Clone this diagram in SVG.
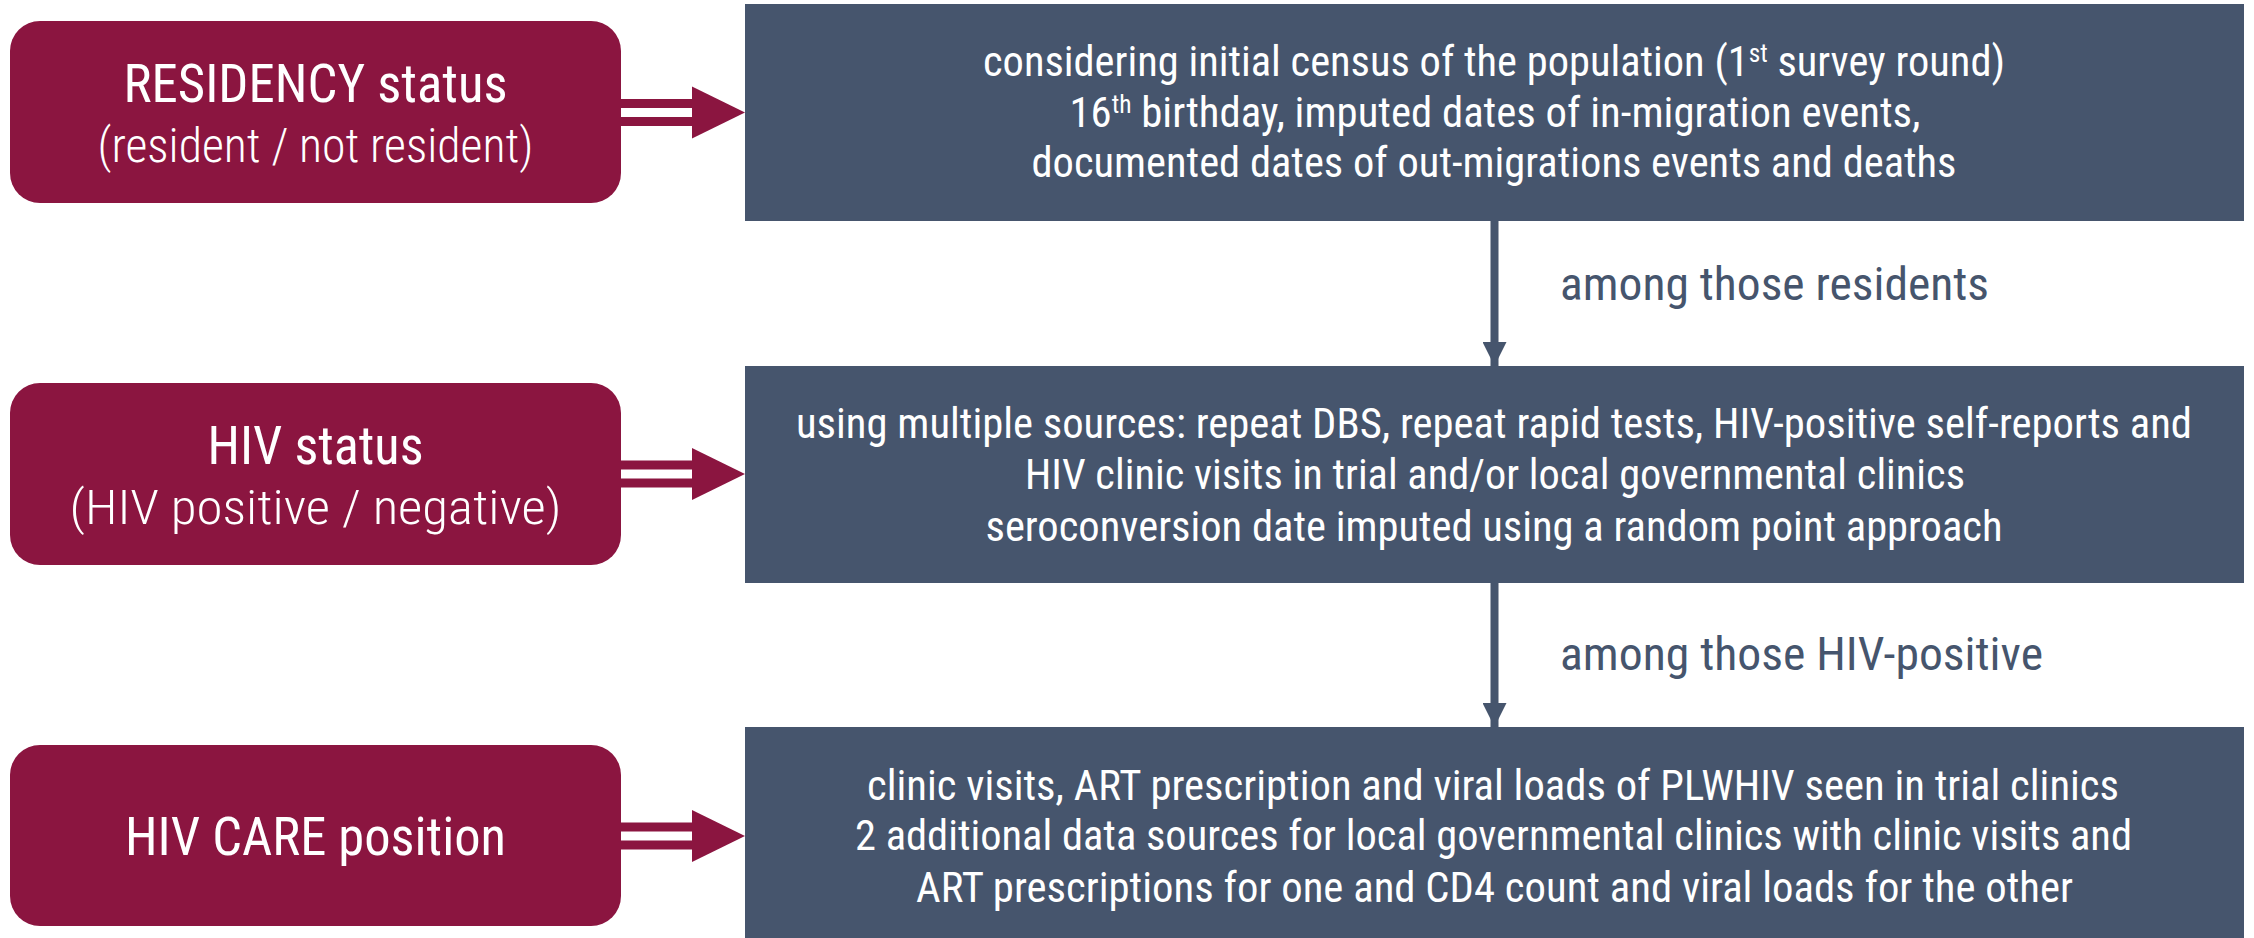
<svg xmlns="http://www.w3.org/2000/svg" xmlns:xlink="http://www.w3.org/1999/xlink" width="2254" height="938" viewBox="0 0 2254 938">
  <style>
    .red { fill: #8B1540; }
    .blue { fill: #46556D; }
    .t { font-family: 'Roboto Condensed', Roboto, 'Liberation Sans', sans-serif; text-anchor: middle; fill: #FFFFFF; }
    .title { font-size: 53px; font-weight: 400; }
    .sub { font-size: 48px; font-weight: 300; }
    .body { font-size: 42px; font-weight: 400; }
    .lbl { font-family: 'Roboto Condensed', Roboto, 'Liberation Sans', sans-serif; font-size: 47px; fill: #46556D; }
    .sup { font-size: 25px; }
    .vline { stroke: #46556D; stroke-width: 8; fill: none; }
  </style>
  <defs>
    <marker id="down" markerUnits="userSpaceOnUse" viewBox="0 0 24 24" markerWidth="24" markerHeight="24" refX="24" refY="12" orient="auto">
      <path d="M0,0 L24,12 L0,24 z" fill="#46556D"/>
    </marker>
    <g id="dbl">
      <rect x="620" y="-13.5" width="73" height="9" class="red"/>
      <rect x="620" y="4.5" width="73" height="9" class="red"/>
      <polygon points="692,-26 745,0 692,26" class="red"/>
    </g>
  </defs>
  <rect width="2254" height="938" fill="#FFFFFF"/>

  <g id="residency">
    <rect x="10" y="21" width="611" height="182" rx="30" ry="30" class="red"/>
    <text class="t title" x="315.5" y="102" textLength="384" lengthAdjust="spacingAndGlyphs">RESIDENCY status</text>
    <text class="t sub" x="315.5" y="162" textLength="436" lengthAdjust="spacingAndGlyphs">(resident / not resident)</text>
  </g>
  <g id="hiv-status">
    <rect x="10" y="383" width="611" height="182" rx="30" ry="30" class="red"/>
    <text class="t title" x="315.5" y="464" textLength="216" lengthAdjust="spacingAndGlyphs">HIV status</text>
    <text class="t sub" x="315.5" y="524" textLength="492" lengthAdjust="spacingAndGlyphs">(HIV positive / negative)</text>
  </g>
  <g id="hiv-care">
    <rect x="10" y="745" width="611" height="181" rx="30" ry="30" class="red"/>
    <text class="t title" x="315.5" y="855" textLength="381" lengthAdjust="spacingAndGlyphs">HIV CARE position</text>
  </g>

  <g id="residency-data">
    <rect x="745" y="4" width="1499" height="217" class="blue"/>
    <text class="t body" x="1494" y="76" textLength="1022" lengthAdjust="spacingAndGlyphs">considering initial census of the population (1<tspan class="sup" dy="-14">st</tspan><tspan dy="14"> survey round)</tspan></text>
    <text class="t body" x="1495" y="127" textLength="851" lengthAdjust="spacingAndGlyphs">16<tspan class="sup" dy="-14">th</tspan><tspan dy="14"> birthday, imputed dates of in-migration events,</tspan></text>
    <text class="t body" x="1494" y="177" textLength="925" lengthAdjust="spacingAndGlyphs">documented dates of out-migrations events and deaths</text>
  </g>
  <g id="hiv-data">
    <rect x="745" y="366" width="1499" height="217" class="blue"/>
    <text class="t body" x="1494" y="438" textLength="1396" lengthAdjust="spacingAndGlyphs">using multiple sources: repeat DBS, repeat rapid tests, HIV-positive self-reports and</text>
    <text class="t body" x="1495" y="489" textLength="940" lengthAdjust="spacingAndGlyphs">HIV clinic visits in trial and/or local governmental clinics</text>
    <text class="t body" x="1494" y="541" textLength="1017" lengthAdjust="spacingAndGlyphs">seroconversion date imputed using a random point approach</text>
  </g>
  <g id="care-data">
    <rect x="745" y="727" width="1499" height="217" class="blue"/>
    <text class="t body" x="1493" y="800" textLength="1252" lengthAdjust="spacingAndGlyphs">clinic visits, ART prescription and viral loads of PLWHIV seen in trial clinics</text>
    <text class="t body" x="1493.5" y="850" textLength="1277" lengthAdjust="spacingAndGlyphs">2 additional data sources for local governmental clinics with clinic visits and</text>
    <text class="t body" x="1494.5" y="902" textLength="1157" lengthAdjust="spacingAndGlyphs">ART prescriptions for one and CD4 count and viral loads for the other</text>
  </g>

  <g id="connectors">
    <use xlink:href="#dbl" href="#dbl" transform="translate(0,112.5)"/>
    <use xlink:href="#dbl" href="#dbl" transform="translate(0,474)"/>
    <use xlink:href="#dbl" href="#dbl" transform="translate(0,836)"/>
    <line class="vline" x1="1494.5" y1="221" x2="1494.5" y2="366" marker-end="url(#down)"/>
    <line class="vline" x1="1494.5" y1="583" x2="1494.5" y2="727" marker-end="url(#down)"/>
    <text class="lbl" x="1560" y="300" textLength="429" lengthAdjust="spacingAndGlyphs">among those residents</text>
    <text class="lbl" x="1560" y="670" textLength="483" lengthAdjust="spacingAndGlyphs">among those HIV-positive</text>
  </g>
</svg>
